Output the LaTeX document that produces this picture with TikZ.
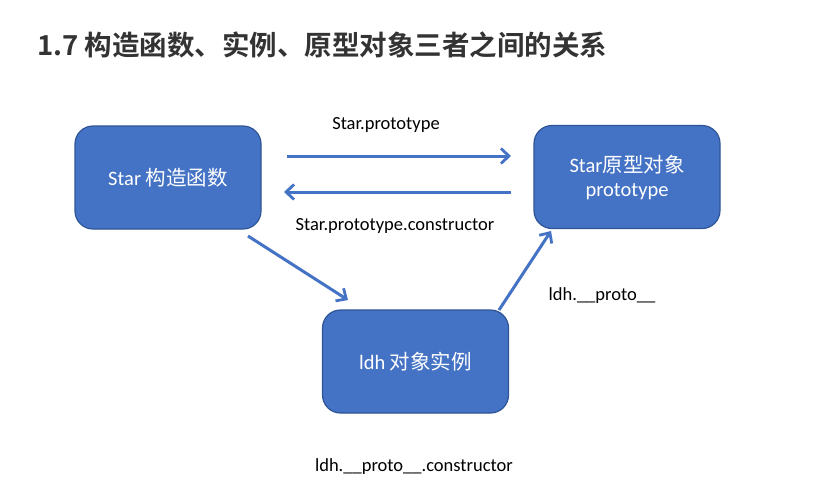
\documentclass[tikz,border=0pt]{standalone}
\usepackage{fontspec}
\setmainfont{Carlito}
\newfontfamily\cjk{Noto Sans CJK SC}
\newfontfamily\cjkbold{Noto Sans CJK SC Bold}
\usetikzlibrary{arrows.meta}
\definecolor{boxfill}{HTML}{4472C4}
\definecolor{boxline}{HTML}{2F5597}
\definecolor{titlegray}{HTML}{333333}
\begin{document}
\begin{tikzpicture}[x=1pt,y=-1pt,
  objbox/.style={draw=boxline,line width=1.2pt,fill=boxfill,rounded corners=18pt,
    minimum width=186pt,minimum height=103pt,text=white,align=center,
    font=\fontsize{20.5}{24}\selectfont,inner sep=0pt},
  link/.style={draw=boxfill,line width=3pt,
    -{Straight Barb[length=8pt,width=15pt,line width=2.8pt]}},
  lbl/.style={font=\fontsize{18.5}{22}\selectfont,text=black,inner sep=0pt}]
\useasboundingbox (0,0) rectangle (826,498);
\fill[white] (0,0) rectangle (826,498);

% heading
\node[anchor=west,inner sep=0pt,text=titlegray,font=\cjkbold\fontsize{27.5}{32}\selectfont]
  (title) at (37,45) {1.7 构造函数、实例、原型对象三者之间的关系};

% the three objects
\node[objbox] (ctor)  at (168,177.5) {Star {\cjk 构造函数}};
\node[objbox] (proto) at (627,177)   {Star{\cjk 原型对象}\\prototype};
\node[objbox] (inst)  at (415.5,361.5) {ldh {\cjk 对象实例}};

% connectors
\coordinate (a1) at (287,156);
\coordinate (a2) at (511,156);
\coordinate (b1) at (511,192);
\coordinate (b2) at (284,192);
\draw[link] (a1) -- (a2);
\draw[link] (b1) -- (b2);
\coordinate (c1) at (248,236);
\coordinate (c2) at (348,300);
\draw[link] (c1) -- (c2);
\coordinate (d1) at (499,310);
\coordinate (d2) at (551,231);
\draw[link] (d1) -- (d2);

% labels
\node[lbl] (l1) at (386,125) {Star.prototype};
\node[lbl] (l2) at (395,226) {Star.prototype.constructor};
\node[lbl] (l3) at (602,296) {ldh.\_\_proto\_\_};
\node[lbl] (l4) at (414,467) {ldh.\_\_proto\_\_.constructor};
\end{tikzpicture}
\end{document}
